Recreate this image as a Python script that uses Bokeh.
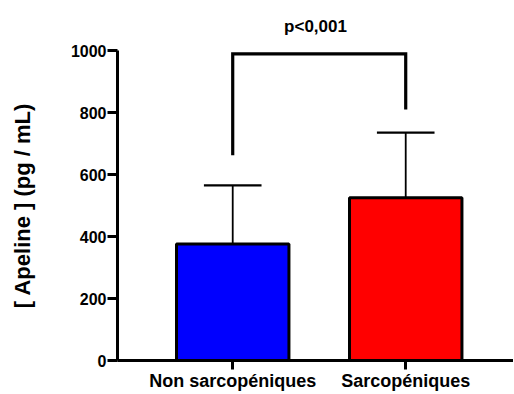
from bokeh.plotting import figure
from bokeh.models import Range1d, FixedTicker
from bokeh.embed import file_html
from bokeh.resources import INLINE

categories = ["Non sarcopéniques", "Sarcopéniques"]
means = [376, 525]
sds = [189, 210]
colors = ["#0000FF", "#FF0000"]
y_ticks = [0, 200, 400, 600, 800, 1000]
bracket_y = [662, 989, 989, 810]
p_text = "p<0,001"
y_title = "[ Apeline ] (pg / mL)"

FONT = "Liberation Sans"
xs = [i + 1 for i in range(len(categories))]
bar_w = 0.65
cap_w = 0.333
tops = [m + s for m, s in zip(means, sds)]

p = figure(width=513, height=393, output_backend="svg", toolbar_location=None,
           x_range=Range1d(0.334, 2.623), y_range=Range1d(0, 1000),
           min_border_left=117, min_border_top=50, min_border_right=0,
           min_border_bottom=33, title=p_text)

# error bars
p.segment(x0=xs, y0=means, x1=xs, y1=tops, line_color="black", line_width=1.8)
p.segment(x0=[x - cap_w / 2 for x in xs], y0=tops, x1=[x + cap_w / 2 for x in xs],
          y1=tops, line_color="black", line_width=2.2)

# bars
p.vbar(x=xs, top=means, width=bar_w, fill_color=colors, line_color="black",
       line_width=3)

# significance bracket
bx = [xs[0], xs[0], xs[1], xs[1]]
p.line(x=bx, y=bracket_y, line_color="black", line_width=3.2, line_join="miter")

p.title.align = "center"
p.title.offset = 6
p.title.standoff = 29
p.title.text_font = FONT
p.title.text_font_style = "bold"
p.title.text_font_size = "17px"
p.title.text_color = "black"

p.grid.grid_line_color = None
p.outline_line_color = None

for ax in (p.xaxis[0], p.yaxis[0]):
    ax.axis_line_width = 3
    ax.axis_line_color = "black"
    ax.major_tick_line_width = 3
    ax.major_tick_line_color = "black"
    ax.major_tick_in = 0
    ax.major_tick_out = 10
    ax.minor_tick_line_color = None
    ax.major_label_text_font = FONT
    ax.major_label_text_font_style = "bold"
    ax.major_label_text_color = "black"

p.xaxis.ticker = FixedTicker(ticks=xs)
p.xaxis.major_tick_out = 9
p.xaxis.major_label_overrides = {x: c for x, c in zip(xs, categories)}
p.xaxis.major_label_text_font_size = "18px"
p.xaxis.major_label_standoff = 1

p.yaxis.ticker = FixedTicker(ticks=y_ticks)
p.yaxis.bounds = (y_ticks[0], y_ticks[-1])
p.yaxis.major_label_text_font_size = "16px"
p.yaxis.major_label_standoff = 1
p.yaxis.axis_label = y_title
p.yaxis.axis_label_text_font = FONT
p.yaxis.axis_label_text_font_style = "bold"
p.yaxis.axis_label_text_font_size = "22px"
p.yaxis.axis_label_text_color = "black"
p.yaxis.axis_label_standoff = 33

open("out.html", "w").write(file_html(p, INLINE))
